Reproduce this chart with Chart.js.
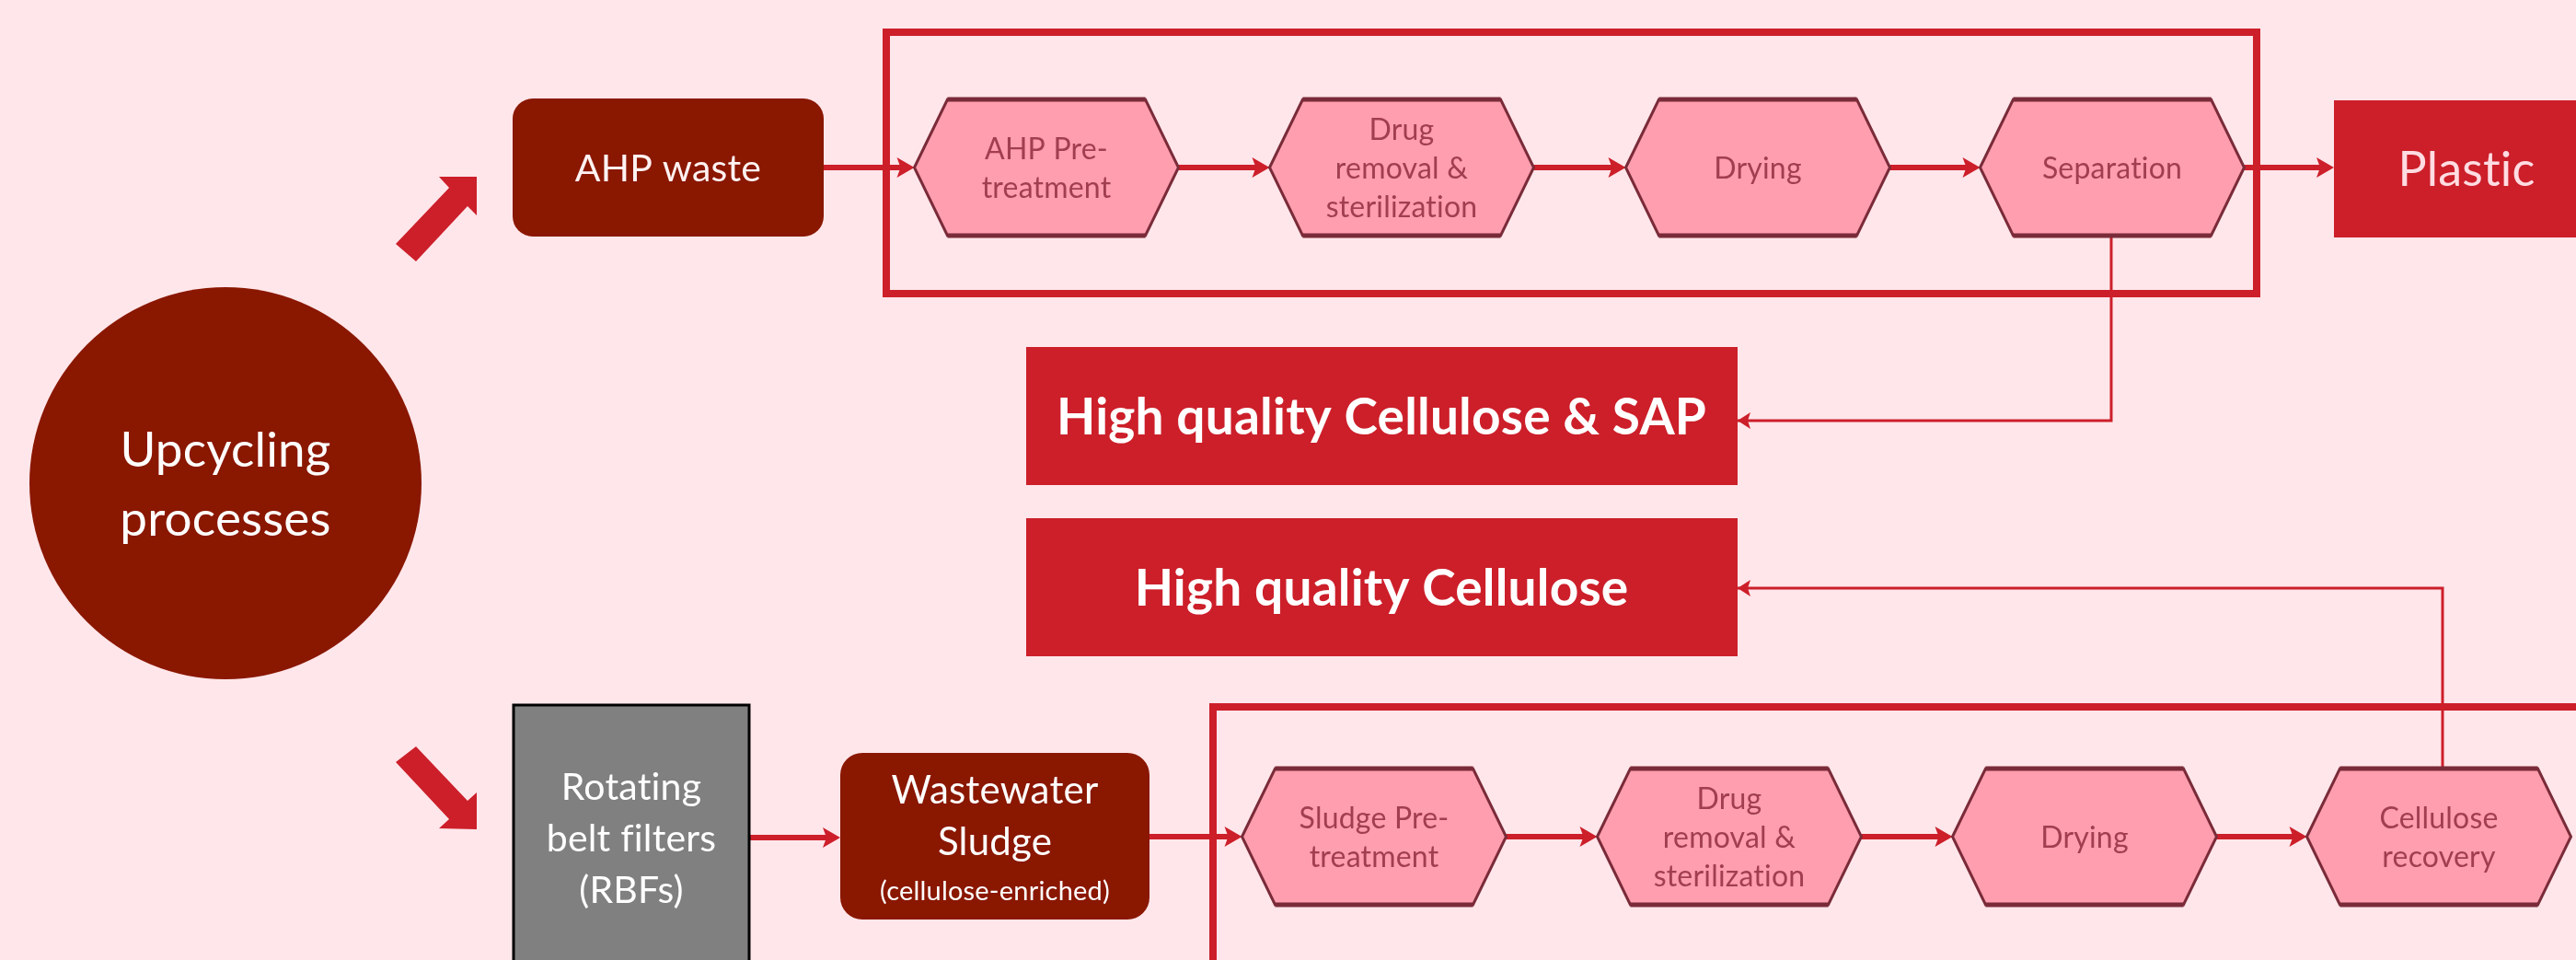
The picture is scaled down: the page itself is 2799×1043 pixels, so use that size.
<!DOCTYPE html>
<html>
<head>
<meta charset="utf-8">
<title>Upcycling processes</title>
<script src="https://cdn.jsdelivr.net/npm/chart.js@4.4.1/dist/chart.umd.min.js"></script>
<style>
  html, body { margin: 0; padding: 0; background: #ffe6ea; overflow: hidden; }
  #flow { display: block; }
</style>
</head>
<body>
<canvas id="flow" width="2799" height="1043"></canvas>
<script>
// diagram units = pixels of the reference picture (x to the right, y downwards)
const hubLabel = ["Upcycling", "processes"];
const hubCenter = [245, 525];
const hubRadius = 213;

const sources = ["AHP waste", "Rotating\nbelt filters\n(RBFs)", "Wastewater\nSludge"];
const sourceNote = "(cellulose-enriched)";
const sourceCenters = [[726, 182], [686, 910], [1081, 908]];

const topSteps = ["AHP Pre-\ntreatment", "Drug\nremoval &\nsterilization", "Drying", "Separation"];
const topStepX = [1137, 1523, 1910, 2295];
const topRowY = 182;

const bottomSteps = ["Sludge Pre-\ntreatment", "Drug\nremoval &\nsterilization", "Drying", "Cellulose\nrecovery"];
const bottomStepX = [1493, 1879, 2265, 2650];
const bottomRowY = 909;

const products = ["Plastic", "High quality Cellulose & SAP", "High quality Cellulose"];
const productCenters = [[2680, 183], [1501, 452], [1501, 638]];

// process frames and side links (polylines)
const frameTop = [[963, 35], [2452, 35], [2452, 319], [963, 319], [963, 35]];
const frameBottom = [[2900, 768], [1318, 768], [1318, 1150]];
const linkSeparation = [[2294, 256], [2294, 457], [1888, 457]];
const linkRecovery = [[2654, 835], [2654, 639], [1888, 639]];

// the two big arrows leaving the hub
const arrowUp = [[477, 192], [518, 192], [518, 234], [508, 224], [452, 284], [430, 265], [488, 204]];
const arrowDown = [[452, 811], [430, 828], [488, 890], [477, 900], [518, 901], [518, 861], [508, 870]];

const C = {
  bg: "#ffe6ea",
  dark: "#8a1700",
  red: "#cc1f2a",
  hexFill: "#ff9eae",
  hexLine: "#7a2b39",
  hexText: "#a13e50",
  gray: "#808080",
};
const FONT = "Lato, 'Open Sans', sans-serif";
const HEX_W = 287, HEX_H = 148, HEX_NOTCH = 36;

function pts(list) {
  return list.map((p) => ({ x: p[0], y: p[1] }));
}

function lineSet(list, color, width) {
  return {
    data: pts(list),
    showLine: true,
    borderColor: color,
    borderWidth: width,
    pointRadius: 0,
    fill: false,
    tension: 0,
    borderJoinStyle: "miter",
    borderCapStyle: "square",
  };
}

// thick flow arrows between neighbouring shapes
const flows = [];
flows.push([[895, topRowY], [topStepX[0] - HEX_W / 2, topRowY]]);
for (let i = 0; i < topStepX.length - 1; i++) {
  flows.push([[topStepX[i] + HEX_W / 2, topRowY], [topStepX[i + 1] - HEX_W / 2, topRowY]]);
}
flows.push([[topStepX[3] + HEX_W / 2, topRowY], [2536, topRowY]]);
flows.push([[814, 910], [913, 910]]);
flows.push([[1249, bottomRowY], [bottomStepX[0] - HEX_W / 2, bottomRowY]]);
for (let i = 0; i < bottomStepX.length - 1; i++) {
  flows.push([[bottomStepX[i] + HEX_W / 2, bottomRowY], [bottomStepX[i + 1] - HEX_W / 2, bottomRowY]]);
}

const datasets = [
  lineSet(frameTop, C.red, 8),
  lineSet(frameBottom, C.red, 8),
  lineSet(linkSeparation, C.red, 3),
  lineSet(linkRecovery, C.red, 3),
];
flows.forEach((f) => {
  const ds = lineSet([f[0], [f[1][0] - 14, f[1][1]]], C.red, 6);
  ds.borderCapStyle = "butt";
  datasets.push(ds);
});

function drawLines(ctx, text, cx, cy, size, lh, weight, color) {
  const lines = text.split("\n");
  ctx.font = `${weight} ${size}px ${FONT}`;
  ctx.letterSpacing = "0.2px"; // keeps Lato from joining "ti" into a ligature
  ctx.fillStyle = color;
  ctx.textAlign = "center";
  ctx.textBaseline = "alphabetic";
  const cap = size * 0.72;
  lines.forEach((ln, i) => {
    ctx.fillText(ln, cx, cy + (i - (lines.length - 1) / 2) * lh + cap / 2);
  });
}

const flowPlugin = {
  id: "flowDiagram",
  beforeDraw(chart) {
    const ctx = chart.ctx;
    ctx.save();
    ctx.fillStyle = C.bg;
    ctx.fillRect(0, 0, chart.width, chart.height);
    ctx.restore();
  },
  afterDatasetsDraw(chart) {
    const ctx = chart.ctx;
    const X = (v) => chart.scales.x.getPixelForValue(v);
    const Y = (v) => chart.scales.y.getPixelForValue(v);
    const L = (v) => X(v) - X(0);
    ctx.save();

    // arrowheads of flows
    ctx.fillStyle = C.red;
    flows.forEach((f) => {
      const x = X(f[1][0]), y = Y(f[1][1]);
      ctx.beginPath();
      ctx.moveTo(x, y);
      ctx.lineTo(x - L(19), y - L(11));
      ctx.lineTo(x - L(15), y);
      ctx.lineTo(x - L(19), y + L(11));
      ctx.closePath();
      ctx.fill();
    });
    // arrowheads of side links (pointing left)
    [linkSeparation, linkRecovery].forEach((lk) => {
      const e = lk[lk.length - 1];
      const x = X(e[0]), y = Y(e[1]);
      ctx.beginPath();
      ctx.moveTo(x, y);
      ctx.lineTo(x + L(14), y - L(9));
      ctx.lineTo(x + L(11), y);
      ctx.lineTo(x + L(14), y + L(9));
      ctx.closePath();
      ctx.fill();
    });

    // big arrows
    [arrowUp, arrowDown].forEach((poly) => {
      ctx.beginPath();
      poly.forEach((p, i) => (i ? ctx.lineTo(X(p[0]), Y(p[1])) : ctx.moveTo(X(p[0]), Y(p[1]))));
      ctx.closePath();
      ctx.fillStyle = C.red;
      ctx.fill();
    });

    // hub circle
    ctx.beginPath();
    ctx.arc(X(hubCenter[0]), Y(hubCenter[1]), L(hubRadius), 0, Math.PI * 2);
    ctx.fillStyle = C.dark;
    ctx.fill();
    drawLines(ctx, hubLabel.join("\n"), X(hubCenter[0]), Y(hubCenter[1]), 53, 75, "normal", "#ffffff");

    // AHP waste
    const a = sourceCenters[0];
    ctx.beginPath();
    ctx.roundRect(X(a[0] - 169), Y(a[1] - 75), L(338), L(150), L(22));
    ctx.fillStyle = C.dark;
    ctx.fill();
    drawLines(ctx, sources[0], X(a[0]), Y(a[1]), 41, 50, "normal", "#fff2f2");

    // rotating belt filters
    const r = sourceCenters[1];
    ctx.fillStyle = C.gray;
    ctx.fillRect(X(r[0] - 128), Y(766), L(256), L(330));
    ctx.strokeStyle = "#000000";
    ctx.lineWidth = 3;
    ctx.strokeRect(X(r[0] - 128), Y(766), L(256), L(330));
    drawLines(ctx, sources[1], X(r[0]), Y(r[1]), 41, 56, "normal", "#ffffff");

    // wastewater sludge
    const w = sourceCenters[2];
    ctx.beginPath();
    ctx.roundRect(X(w[0] - 168), Y(818), L(336), L(181), L(24));
    ctx.fillStyle = C.dark;
    ctx.fill();
    drawLines(ctx, sources[2], X(w[0]), Y(w[1] - 22), 42, 56, "normal", "#ffffff");
    drawLines(ctx, sourceNote, X(w[0]), Y(w[1] + 60), 29, 30, "normal", "#ffffff");

    // process hexagons
    const hex = (cx, cy, label) => {
      const hw = L(HEX_W / 2), hh = L(HEX_H / 2), n = L(HEX_NOTCH);
      const x = X(cx), y = Y(cy);
      ctx.beginPath();
      ctx.moveTo(x - hw, y);
      ctx.lineTo(x - hw + n, y - hh);
      ctx.lineTo(x + hw - n, y - hh);
      ctx.lineTo(x + hw, y);
      ctx.lineTo(x + hw - n, y + hh);
      ctx.lineTo(x - hw + n, y + hh);
      ctx.closePath();
      ctx.fillStyle = C.hexFill;
      ctx.fill();
      ctx.strokeStyle = C.hexLine;
      ctx.lineWidth = 3;
      ctx.lineJoin = "miter";
      ctx.stroke();
      ctx.lineWidth = 5;
      ctx.beginPath();
      ctx.moveTo(x - hw + n, y - hh); ctx.lineTo(x + hw - n, y - hh);
      ctx.moveTo(x - hw + n, y + hh); ctx.lineTo(x + hw - n, y + hh);
      ctx.stroke();
      drawLines(ctx, label, x, y, 32, 42, "normal", C.hexText);
    };
    topSteps.forEach((s, i) => hex(topStepX[i], topRowY, s));
    bottomSteps.forEach((s, i) => hex(bottomStepX[i], bottomRowY, s));

    // products
    const p0 = productCenters[0];
    ctx.fillStyle = C.red;
    ctx.fillRect(X(p0[0] - 144), Y(p0[1] - 74), L(288), L(149));
    drawLines(ctx, products[0], X(p0[0]), Y(p0[1]), 52, 60, "normal", "#ffdce2");
    [1, 2].forEach((k) => {
      const p = productCenters[k];
      ctx.fillStyle = C.red;
      ctx.fillRect(X(p[0] - 386), Y(p[1] - 75), L(773), L(150));
      drawLines(ctx, products[k], X(p[0]), Y(p[1]), 55, 60, "bold", "#ffffff");
    });

    ctx.restore();
  },
};

new Chart(document.getElementById("flow"), {
  type: "scatter",
  data: { datasets: datasets },
  options: {
    responsive: false,
    animation: false,
    devicePixelRatio: 1,
    events: [],
    layout: { padding: 0 },
    plugins: { legend: { display: false }, tooltip: { enabled: false } },
    scales: {
      x: { type: "linear", min: 0, max: 2799, display: false },
      y: { type: "linear", min: 0, max: 1043, reverse: true, display: false },
    },
  },
  plugins: [flowPlugin],
});
</script>
</body>
</html>
